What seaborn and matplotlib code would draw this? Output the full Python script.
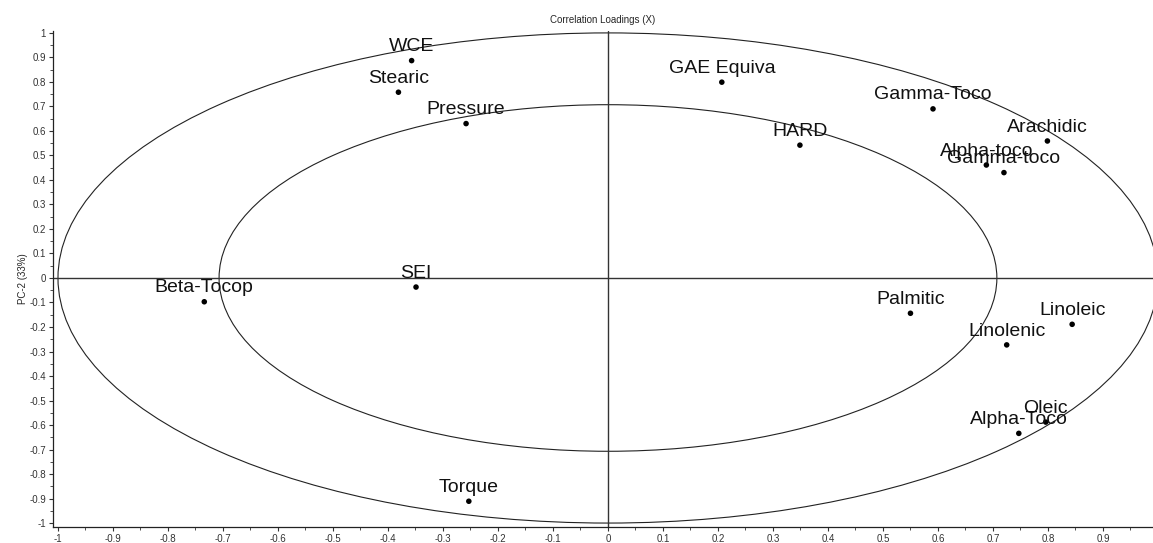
import numpy as np
import pandas as pd
import seaborn as sns
import matplotlib.pyplot as plt
from matplotlib.patches import Ellipse
from matplotlib.ticker import MultipleLocator, FuncFormatter

# Variable loadings
variables = ["WCE", "Stearic", "Pressure", "GAE Equiva", "SEI", "Beta-Tocop",
             "HARD", "Gamma-Toco", "Arachidic", "Alpha-toco", "Gamma-toco",
             "Palmitic", "Linoleic", "Linolenic", "Oleic", "Alpha-Toco", "Torque"]
pc1 = [-0.357, -0.381, -0.258, 0.207, -0.349, -0.734,
       0.349, 0.591, 0.799, 0.688, 0.720,
       0.550, 0.844, 0.725, 0.796, 0.747, -0.253]
pc2 = [0.887, 0.758, 0.630, 0.799, -0.037, -0.097,
       0.542, 0.690, 0.559, 0.461, 0.430,
       -0.144, -0.189, -0.273, -0.588, -0.634, -0.911]

df = pd.DataFrame({"variable": variables, "PC1": pc1, "PC2": pc2})

sns.set_style("white")
plt.rcParams["font.family"] = ["Liberation Sans", "DejaVu Sans"]
plt.rcParams["axes.unicode_minus"] = False

fig = plt.figure(figsize=(11.53, 5.43), dpi=100)
ax = fig.add_axes([0.046, 0.0295, 0.954, 0.9135])

# circles for 100% and 50% explained variance
for r in [1.0, np.sqrt(0.5)]:
    ax.add_patch(Ellipse((0, 0), 2 * r, 2 * r, fill=False,
                         edgecolor="#222222", linewidth=0.8))

ax.axhline(0, color="#333333", linewidth=1.0)
ax.axvline(0, color="#333333", linewidth=1.0)

sns.scatterplot(data=df, x="PC1", y="PC2", color="black", s=16,
                edgecolor="none", ax=ax)

for _, row in df.iterrows():
    ax.annotate(row["variable"], (row["PC1"], row["PC2"]),
                xytext=(0, 10), textcoords="offset points",
                ha="center", va="center", fontsize=14, color="#111111")

ax.set_xlim(-1.009, 0.991)
ax.set_ylim(-1.016, 1.008)

ax.xaxis.set_major_locator(MultipleLocator(0.1))
ax.xaxis.set_minor_locator(MultipleLocator(0.05))
ax.yaxis.set_major_locator(MultipleLocator(0.1))
ax.yaxis.set_minor_locator(MultipleLocator(0.05))
fmt = FuncFormatter(lambda v, p: f"{round(v, 2):g}" if abs(v) > 1e-9 else "0")
ax.xaxis.set_major_formatter(fmt)
ax.yaxis.set_major_formatter(fmt)
ax.tick_params(which="major", direction="out", length=3, width=0.8,
               labelsize=7, colors="#333333", pad=2)
ax.tick_params(which="minor", direction="out", length=2, width=0.6,
               colors="#333333")
ax.tick_params(bottom=True, left=True, which="both")

for s in ["top", "right"]:
    ax.spines[s].set_visible(False)
for s in ["left", "bottom"]:
    ax.spines[s].set_color("#222222")
    ax.spines[s].set_linewidth(0.9)

ax.set_title("Correlation Loadings (X)", fontsize=7, pad=6)
ax.set_xlabel("PC-1 (35%)", fontsize=7, labelpad=1)
ax.set_ylabel("PC-2 (33%)", fontsize=7, labelpad=1)

fig.savefig("out.png", dpi=100)
